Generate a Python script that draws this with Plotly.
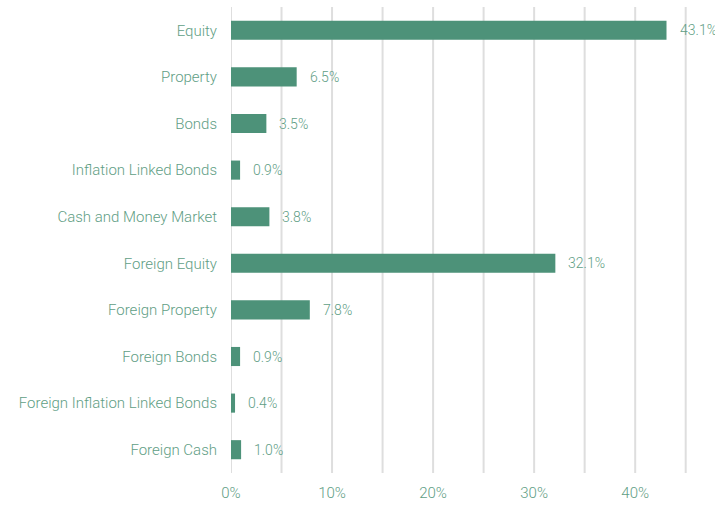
import plotly.graph_objects as go

categories = ["Equity", "Property", "Bonds", "Inflation Linked Bonds", "Cash and Money Market",
              "Foreign Equity", "Foreign Property", "Foreign Bonds", "Foreign Inflation Linked Bonds",
              "Foreign Cash"]
values = [43.1, 6.5, 3.5, 0.9, 3.8, 32.1, 7.8, 0.9, 0.4, 1.0]
tick_vals = [0, 10, 20, 30, 40]
tick_text = ["0%", "10%", "20%", "30%", "40%"]

bar_color = "#4d9279"
text_color = "#5f9e85"
font_family = "Roboto"
fsize = 15

fig = go.Figure()
fig.add_trace(go.Bar(
    y=categories, x=values, orientation="h",
    marker=dict(color=bar_color, line=dict(width=0)),
    width=0.41, hoverinfo="skip",
))

for c, v in zip(categories, values):
    fig.add_annotation(x=v, y=c, text=f"{v:.1f}%", showarrow=False,
                       xanchor="left", xshift=11,
                       font=dict(family=font_family, size=14, color=text_color, weight=300))

# vertical gridlines every 5%
for g in range(0, 50, 5):
    fig.add_shape(type="line", x0=g, x1=g, y0=0, y1=1, yref="paper", xref="x",
                  line=dict(color="#dedede", width=2), layer="below")

fig.update_layout(
    width=715, height=506,
    margin=dict(l=231, r=0, t=7, b=33, autoexpand=False),
    paper_bgcolor="white", plot_bgcolor="white",
    showlegend=False,
    font=dict(family=font_family, size=fsize, color=text_color, weight=300),
    xaxis=dict(range=[0, 47.9], tickvals=tick_vals, ticktext=tick_text,
               showgrid=False, zeroline=False, showline=False,
               ticks="", ticklabelstandoff=9,
               tickfont=dict(size=fsize, color=text_color, weight=300)),
    yaxis=dict(categoryorder="array", categoryarray=categories, autorange="reversed",
               showgrid=False, zeroline=False, showline=False, ticks="",
               ticklabelstandoff=13, tickfont=dict(size=fsize, color=text_color, weight=300)),
)

fig.write_html("out.html", config={"displayModeBar": False},
               post_script="document.body.style.margin='0';document.body.style.overflow='hidden';")
